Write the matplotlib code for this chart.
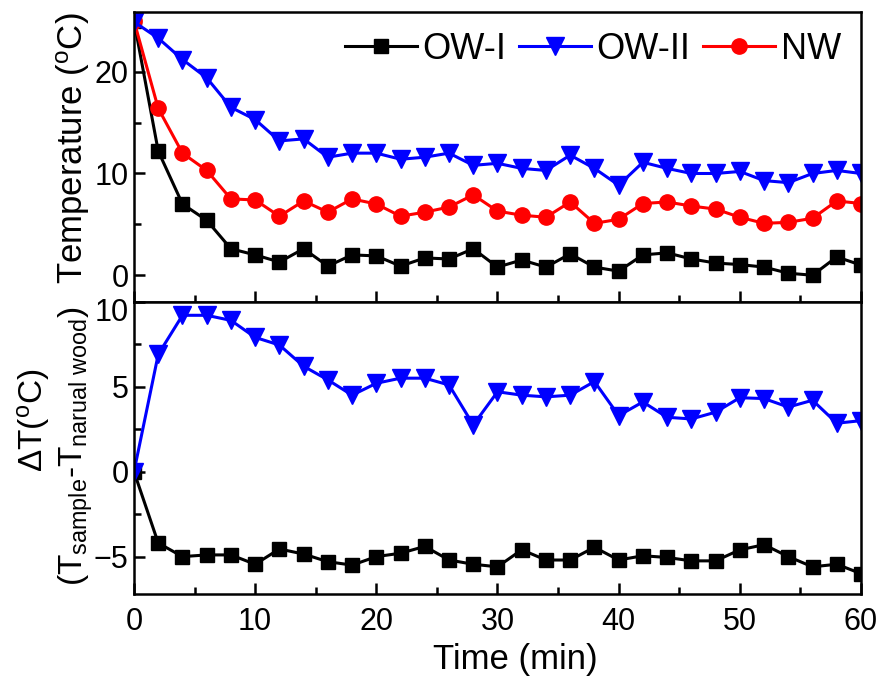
import numpy as np
import matplotlib
matplotlib.use("Agg")
import matplotlib.pyplot as plt
from matplotlib.ticker import MultipleLocator
import matplotlib.transforms as mtransforms

plt.rcParams['font.family'] = ['Liberation Sans', 'DejaVu Sans']
plt.rcParams['mathtext.fontset'] = 'custom'
plt.rcParams['mathtext.rm'] = 'Liberation Sans'
plt.rcParams['mathtext.it'] = 'Liberation Sans'
plt.rcParams['mathtext.default'] = 'rm'

time = [0, 2, 4, 6, 8, 10, 12, 14, 16, 18, 20, 22, 24, 26, 28, 30,
        32, 34, 36, 38, 40, 42, 44, 46, 48, 50, 52, 54, 56, 58, 60]

ow1_temp = [25.0, 12.2, 7.0, 5.4, 2.6, 2.0, 1.3, 2.6, 0.9, 2.0, 1.9, 0.9, 1.7, 1.6, 2.6, 0.8,
            1.5, 0.8, 2.1, 0.8, 0.4, 2.0, 2.2, 1.6, 1.2, 1.05, 0.8, 0.2, 0.0, 1.8, 1.0]
ow2_temp = [24.9, 23.3, 21.2, 19.4, 16.5, 15.3, 13.2, 13.4, 11.6, 12.0, 12.0, 11.4, 11.6, 12.0, 10.8, 11.0,
            10.5, 10.3, 11.8, 10.5, 8.85, 11.1, 10.5, 10.0, 10.0, 10.2, 9.3, 9.1, 10.0, 10.3, 10.0]
nw_temp = [25.0, 16.4, 12.0, 10.3, 7.5, 7.4, 5.8, 7.3, 6.2, 7.5, 7.0, 5.8, 6.2, 6.7, 7.9, 6.3,
           5.9, 5.7, 7.2, 5.1, 5.5, 7.05, 7.2, 6.8, 6.5, 5.7, 5.1, 5.2, 5.6, 7.3, 7.05]

ow1_dt = [0.0, -4.2, -5.0, -4.9, -4.9, -5.45, -4.55, -4.85, -5.3, -5.5, -5.0, -4.8, -4.4, -5.2, -5.45, -5.6,
          -4.6, -5.2, -5.2, -4.45, -5.2, -4.95, -5.05, -5.25, -5.25, -4.6, -4.3, -5.0, -5.6, -5.45, -6.0]
ow2_dt = [0.0, 6.9, 9.2, 9.2, 8.9, 7.9, 7.45, 6.2, 5.4, 4.5, 5.2, 5.5, 5.5, 5.1, 2.75, 4.7,
          4.5, 4.4, 4.5, 5.3, 3.3, 4.1, 3.2, 3.1, 3.5, 4.35, 4.3, 3.8, 4.2, 2.85, 3.0]

labels = ['OW-I', 'OW-II', 'NW']

W, H = 879, 686
fig = plt.figure(figsize=(W/100, H/100), dpi=100)
L, R = 134/W, 861/W
ymid = 1 - 301.7/H
ytop = 1 - 11.7/H
ybot = 1 - 594/H
ax1 = fig.add_axes([L, ymid, R-L, ytop-ymid])
ax2 = fig.add_axes([L, ybot, R-L, ymid-ybot], sharex=ax1)

lw = 2.2
kw_sq = dict(color='black', marker='s', markersize=10.5, linewidth=lw)
kw_tr = dict(color='#0000ff', marker='v', markersize=13, linewidth=lw)
kw_ci = dict(color='#ff0000', marker='o', markersize=11, linewidth=lw)

h1, = ax1.plot(time, ow1_temp, label=labels[0], **kw_sq)
h3, = ax1.plot(time, nw_temp, label=labels[2], **kw_ci)
h2, = ax1.plot(time, ow2_temp, label=labels[1], **kw_tr)

ax2.plot(time, ow1_dt, **kw_sq)
ax2.plot(time, ow2_dt, **kw_tr)

for ax in (ax1, ax2):
    for s in ax.spines.values():
        s.set_linewidth(1.8)
    ax.tick_params(which='both', direction='in', width=1.8, labelsize=22,
                   top=False, right=False, pad=4)
    ax.tick_params(which='major', length=8)
    ax.tick_params(which='minor', length=5)
    ax.xaxis.set_major_locator(MultipleLocator(10))
    ax.xaxis.set_minor_locator(MultipleLocator(5))

ax1.set_xlim(0, 60)
ax1.set_ylim(-2.6, 25.9)
ax1.yaxis.set_major_locator(MultipleLocator(10))
ax1.yaxis.set_minor_locator(MultipleLocator(5))
ax1.tick_params(axis='x', labelbottom=False)

ax2.set_ylim(-7.2, 10)
ax2.yaxis.set_major_locator(MultipleLocator(5))
ax2.yaxis.set_minor_locator(MultipleLocator(2.5))
ax2.tick_params(axis='x', pad=9)

fig.text(73/W, 1 - 148/H, 'Temperature ($^{o}$C)', rotation=90, fontsize=25,
         ha='center', va='center')
fig.text(515/W, 1 - 660/H, 'Time (min)', fontsize=25, ha='center', va='center')
fig.text(34/W, 1 - 420/H, 'ΔT($^{o}$C)', rotation=90, fontsize=24,
         ha='center', va='center')
fig.text(76/W, 1 - 446/H, '(T$_{sample}$-T$_{narual\\ wood}$)', rotation=90, fontsize=24,
         ha='center', va='center')

fig.canvas.draw()
offset = mtransforms.ScaledTranslation(0, -8/100, fig.dpi_scale_trans)
for lab in ax2.get_yticklabels():
    if lab.get_text() in ('10',):
        lab.set_transform(lab.get_transform() + offset)

leg = ax1.legend(handles=[h1, h2, h3], loc='upper right', ncol=3, frameon=False,
                 fontsize=26, handlelength=2.0, handletextpad=0.15, columnspacing=0.35,
                 borderaxespad=0.15, bbox_to_anchor=(1.0, 1.0))

fig.savefig('out.png', dpi=100)
